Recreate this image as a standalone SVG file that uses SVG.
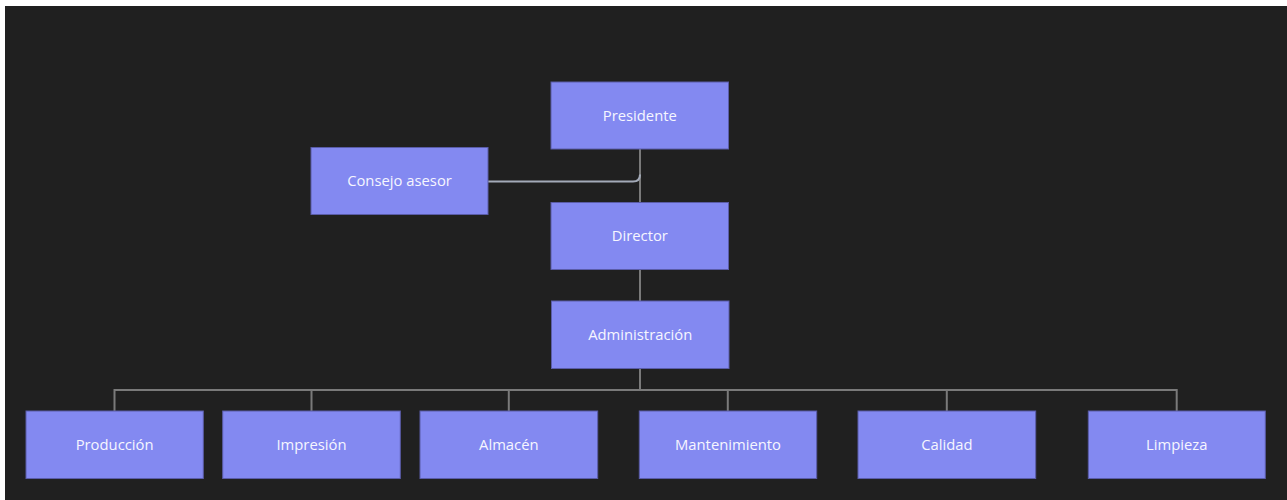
<svg xmlns="http://www.w3.org/2000/svg" width="1287" height="500" viewBox="0 0 1287 500">
<style>
.node rect{fill:#8389f1;stroke:#5a5ca8;stroke-width:1}
.node text{fill:#f6f6ff;font-family:"Open Sans","Noto Sans",sans-serif;font-size:14.8px;font-weight:500;text-anchor:middle;dominant-baseline:central}
.link{fill:none;stroke:#7a7a7a;stroke-width:2}
.link2{fill:none;stroke:#a3aab8;stroke-width:2}
</style>
<rect x="0" y="0" width="1287" height="500" fill="#ffffff"/>
<rect x="5" y="6" width="1282" height="494" fill="#202020"/>
<g id="connectors">
<path class="link" d="M640,149 V202"/>
<path class="link2" d="M488,181.5 H633 Q640,181.5 640,174.5"/>
<path class="link" d="M640,269 V301"/>
<path class="link" d="M640,368 V390"/>
<path class="link" d="M114.5,411 V390 H1176.7 V411"/>
<path class="link" d="M311.5,390 V411 M508.8,390 V411 M727.8,390 V411 M946.8,390 V411"/>
</g>
<g id="presidente" class="node"><rect x="551" y="82" width="177.5" height="67"/><text x="639.8" y="114.5">Presidente</text></g>
<g id="consejo" class="node"><rect x="311" y="147.5" width="177" height="67"/><text x="399.5" y="180">Consejo asesor</text></g>
<g id="director" class="node"><rect x="551" y="202.5" width="177.5" height="67"/><text x="639.8" y="235">Director</text></g>
<g id="administracion" class="node"><rect x="551.5" y="301" width="177.5" height="67.5"/><text x="640.2" y="333.8">Administración</text></g>
<g id="produccion" class="node"><rect x="26" y="411" width="177.3" height="67.5"/><text x="114.6" y="443.8">Producción</text></g>
<g id="impresion" class="node"><rect x="222.7" y="411" width="177.6" height="67.5"/><text x="311.5" y="443.8">Impresión</text></g>
<g id="almacen" class="node"><rect x="420" y="411" width="177.7" height="67.5"/><text x="508.8" y="443.8">Almacén</text></g>
<g id="mantenimiento" class="node"><rect x="639.3" y="411" width="177.4" height="67.5"/><text x="728" y="443.8">Mantenimiento</text></g>
<g id="calidad" class="node"><rect x="858" y="411" width="177.7" height="67.5"/><text x="946.8" y="443.8">Calidad</text></g>
<g id="limpieza" class="node"><rect x="1088.3" y="411" width="177" height="67.5"/><text x="1176.8" y="443.8">Limpieza</text></g>
</svg>
